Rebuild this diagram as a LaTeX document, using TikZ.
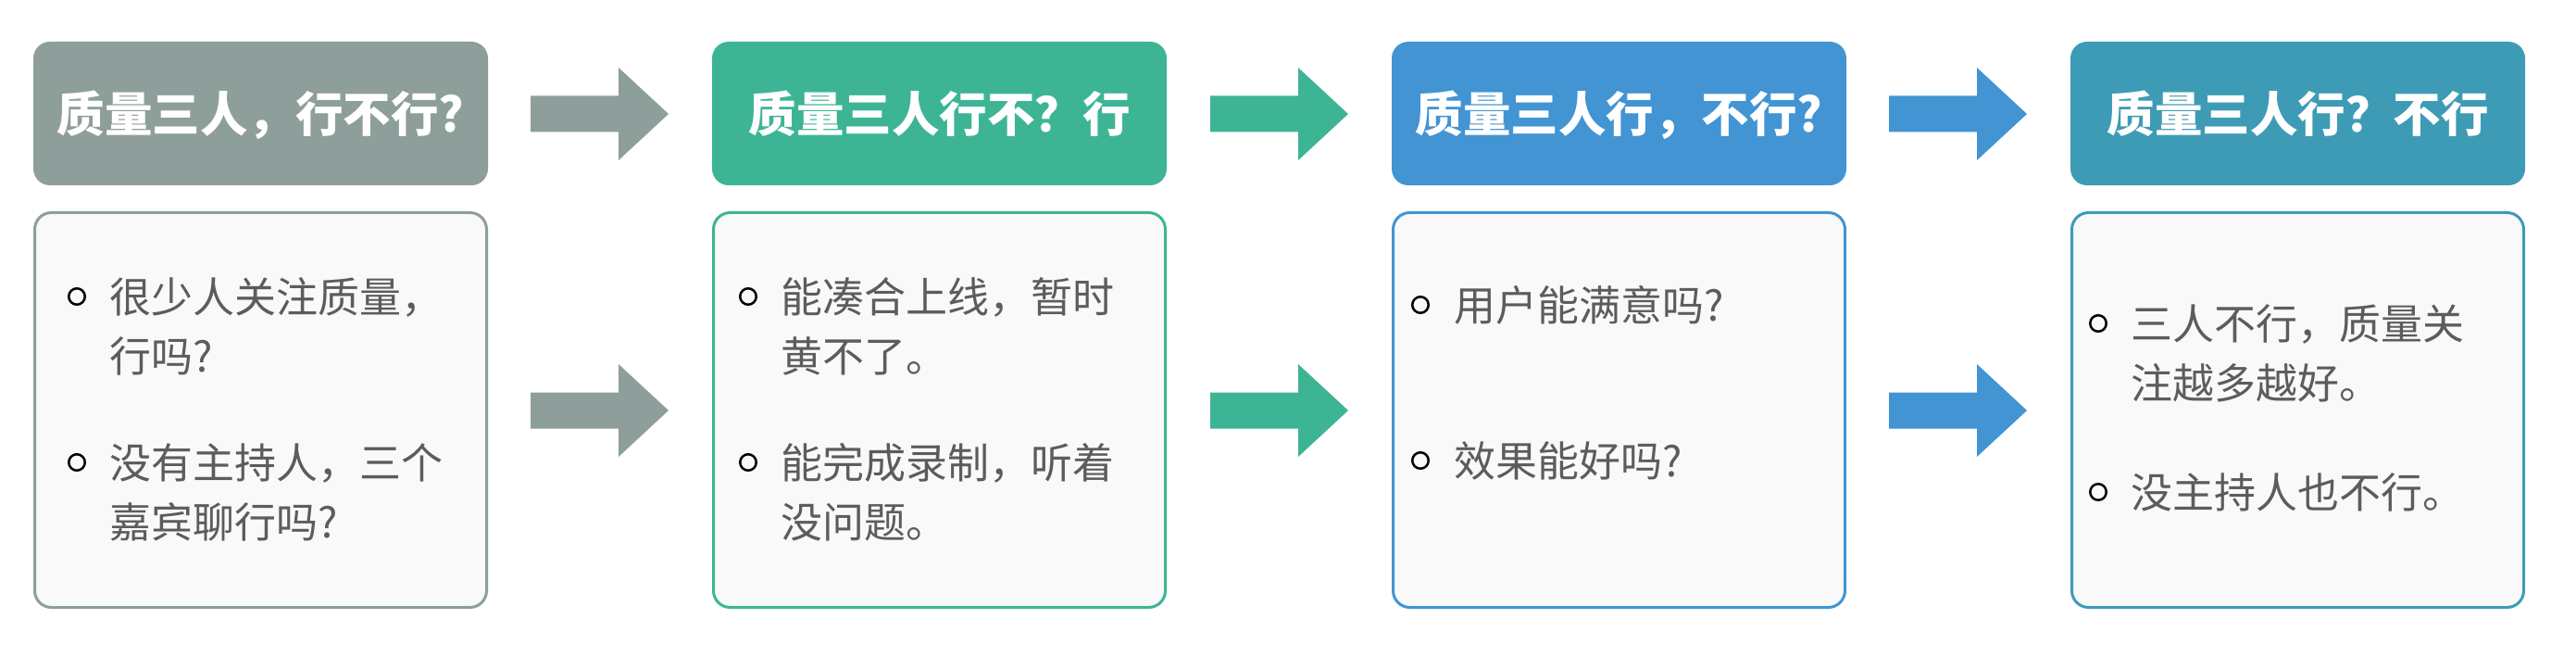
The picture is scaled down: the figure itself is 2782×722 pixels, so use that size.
\documentclass[tikz,border=0pt]{standalone}
\usepackage{fontspec}
\newfontfamily\cjk{Noto Sans CJK SC}
\definecolor{qgray}{HTML}{8E9E9B}
\definecolor{qgreen}{HTML}{3DB595}
\definecolor{qblue}{HTML}{4294D3}
\definecolor{qteal}{HTML}{3E9BB5}
\definecolor{bodybg}{HTML}{F9F9F9}
\definecolor{bodytxt}{HTML}{5C5C5C}
% block arrow: left end x, middle y, colour
\newcommand\blockarrow[3]{%
  \fill[#3] (#1,#2-19.5) -- (#1+95,#2-19.5) -- (#1+95,#2-50) -- (#1+149,#2)
    -- (#1+95,#2+50) -- (#1+95,#2+19.5) -- (#1,#2+19.5) -- cycle;}

\begin{document}
\begin{tikzpicture}[x=1pt,y=-1pt,
    head/.style={fill=#1,rounded corners=18pt,minimum width=491pt,minimum height=155pt,
      inner sep=0pt,text=white,text height=42.3pt,text depth=3.1pt,
      font=\cjk\bfseries\fontsize{51.5}{60}\selectfont},
    body/.style={draw=#1,fill=bodybg,line width=3pt,rounded corners=18pt,
      minimum width=488pt,minimum height=426pt,inner sep=0pt},
    dot/.style={circle,draw=black,line width=2.5pt,minimum size=17.5pt,inner sep=0pt},
    txt/.style={anchor=base west,inner sep=0pt,text=bodytxt,
      font=\cjk\fontsize{45}{54}\selectfont}]
  \fill[white] (0,0) rectangle (2782,722);
  \useasboundingbox (0,0) rectangle (2782,722);

  % headers
  \node[head=qgray] (h1) at (281.5,122.5) {质量三人，行不行?};
  \node[head=qgreen] (h2) at (1014.5,122.5) {质量三人行不？行};
  \node[head=qblue] (h3) at (1748.5,122.5) {质量三人行，不行?};
  \node[head=qteal] (h4) at (2481.5,122.5) {质量三人行？不行};

  % bodies
  \node[body=qgray] (b1) at (281.5,442.5) {};
  \node[body=qgreen] (b2) at (1014.5,442.5) {};
  \node[body=qblue] (b3) at (1748.5,442.5) {};
  \node[body=qteal] (b4) at (2481.5,442.5) {};

  % arrows
  \blockarrow{573}{123}{qgray}
  \blockarrow{573}{443}{qgray}
  \blockarrow{1307}{123}{qgreen}
  \blockarrow{1307}{443}{qgreen}
  \blockarrow{2040}{123}{qblue}
  \blockarrow{2040}{443}{qblue}

  % column 1
  \node[dot] (d11) at (83,320) {};
  \node[txt] (t11) at (118,337) {很少人关注质量，};
  \node[txt] (t12) at (118,401) {行吗?};
  \node[dot] (d12) at (83,499) {};
  \node[txt] (t13) at (118,516) {没有主持人，三个};
  \node[txt] (t14) at (118,580) {嘉宾聊行吗?};

  % column 2
  \node[dot] (d21) at (808,320) {};
  \node[txt] (t21) at (843,337) {能凑合上线，暂时};
  \node[txt] (t22) at (843,401) {黄不了。};
  \node[dot] (d22) at (808,499) {};
  \node[txt] (t23) at (843,516) {能完成录制，听着};
  \node[txt] (t24) at (843,580) {没问题。};

  % column 3
  \node[dot] (d31) at (1534,329) {};
  \node[txt] (t31) at (1570,346) {用户能满意吗?};
  \node[dot] (d32) at (1534,497) {};
  \node[txt] (t32) at (1570,514) {效果能好吗?};

  % column 4
  \node[dot] (d41) at (2266,349) {};
  \node[txt] (t41) at (2301,366) {三人不行，质量关};
  \node[txt] (t42) at (2301,430) {注越多越好。};
  \node[dot] (d42) at (2266,531) {};
  \node[txt] (t43) at (2301,548) {没主持人也不行。};
\end{tikzpicture}
\end{document}
